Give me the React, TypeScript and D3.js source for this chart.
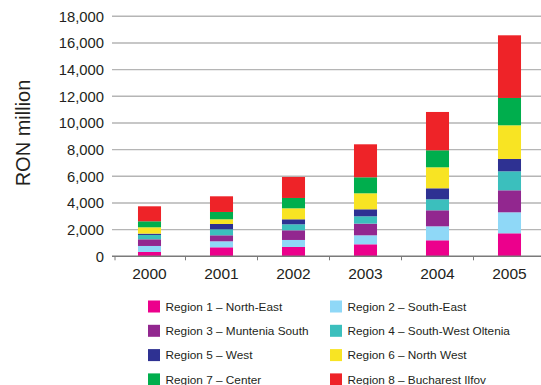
import React from "react";
import * as d3 from "d3";

const years = ["2000", "2001", "2002", "2003", "2004", "2005"];

const regions = [
  "Region 1 – North-East",
  "Region 2 – South-East",
  "Region 3 – Muntenia South",
  "Region 4 – South-West Oltenia",
  "Region 5 – West",
  "Region 6 – North West",
  "Region 7 – Center",
  "Region 8 – Bucharest Ilfov",
];

const regionColors = [
  "#EC008C",
  "#8FD8F7",
  "#92278F",
  "#3BBFBD",
  "#2E3192",
  "#F8E423",
  "#00AE4D",
  "#EE2328",
];

// RON million per region, one array per region, in year order
const northEast = [325, 675, 700, 900, 1200, 1725];
const southEast = [450, 450, 525, 675, 1050, 1575];
const munteniaSouth = [500, 450, 725, 875, 1200, 1650];
const southWestOltenia = [325, 450, 450, 550, 825, 1425];
const west = [100, 400, 375, 525, 825, 925];
const northWest = [475, 350, 825, 1200, 1575, 2525];
const center = [450, 550, 775, 1200, 1275, 2050];
const bucharestIlfov = [1125, 1175, 1575, 2475, 2875, 4700];

const series = [
  northEast,
  southEast,
  munteniaSouth,
  southWestOltenia,
  west,
  northWest,
  center,
  bucharestIlfov,
];

const yTicks = [0, 2000, 4000, 6000, 8000, 10000, 12000, 14000, 16000, 18000];

const W = 541;
const H = 385;
const FONT = "'Liberation Sans', Arial, Helvetica, sans-serif";

export default function App() {
  const x = d3
    .scaleBand<string>()
    .domain(years)
    .range([113.5, 545.5])
    .paddingInner(0.68)
    .paddingOuter(0.34);

  const y = d3.scaleLinear().domain([0, 18000]).range([256.3, 16.3]);

  const table = years.map((yr, i) => {
    const row: Record<string, number | string> = { year: yr };
    series.forEach((s, k) => (row["r" + k] = s[i]));
    return row;
  });
  const keys = series.map((_, k) => "r" + k);
  const stacked = d3.stack<Record<string, number | string>>().keys(keys)(table as any);

  const fmt = d3.format(",");
  const step = x.step();
  const sepTicks = years.map((yr) => (x(yr) as number) + x.bandwidth() / 2 + step / 2);

  return (
    <svg
      width={W}
      height={H}
      style={{ position: "absolute", left: 0, top: 0, background: "#fff" }}
      fontFamily={FONT}
    >
      {/* horizontal gridlines */}
      {yTicks.slice(1).map((t) => (
        <line
          key={t}
          x1={112}
          x2={W}
          y1={y(t)}
          y2={y(t)}
          stroke="#b5b5b5"
          strokeWidth={1.4}
        />
      ))}

      {/* stacked bars */}
      {stacked.map((layer, k) => (
        <g key={k} fill={regionColors[k]}>
          {layer.map((d, i) => (
            <rect
              key={i}
              x={x(years[i])}
              width={x.bandwidth()}
              y={y(d[1])}
              height={y(d[0]) - y(d[1])}
            />
          ))}
        </g>
      ))}

      {/* baseline and ticks */}
      <line x1={112} x2={W} y1={y(0)} y2={y(0)} stroke="#7a7a7a" strokeWidth={1.5} />
      <line x1={115} x2={115} y1={y(0)} y2={y(0) + 4} stroke="#7a7a7a" strokeWidth={1} />
      {sepTicks.map((tx, i) => (
        <line key={i} x1={tx} x2={tx} y1={y(0)} y2={y(0) + 4} stroke="#7a7a7a" strokeWidth={1} />
      ))}

      {/* y tick labels */}
      {yTicks.map((t) => (
        <text
          key={t}
          x={104}
          y={y(t)}
          dy="0.36em"
          textAnchor="end"
          fontSize={14.8}
          fill="#231f20"
        >
          {fmt(t)}
        </text>
      ))}

      {/* x labels */}
      {years.map((yr) => (
        <text
          key={yr}
          x={(x(yr) as number) + x.bandwidth() / 2}
          y={273}
          dy="0.36em"
          textAnchor="middle"
          fontSize={15.5}
          fill="#231f20"
        >
          {yr}
        </text>
      ))}

      {/* y axis title */}
      <text
        transform={`translate(30,133) rotate(-90)`}
        textAnchor="middle"
        fontSize={20}
        fill="#231f20"
      >
        RON million
      </text>

      {/* legend */}
      {regions.map((name, k) => {
        const col = k % 2;
        const row = Math.floor(k / 2);
        const lx = col === 0 ? 148 : 330;
        const ly = 306.5 + row * 24.3;
        return (
          <g key={name}>
            <rect x={lx} y={ly - 6} width={12} height={12} fill={regionColors[k]} />
            <text x={lx + 17.5} y={ly} dy="0.36em" fontSize={11.8} fill="#231f20">
              {name}
            </text>
          </g>
        );
      })}
    </svg>
  );
}
